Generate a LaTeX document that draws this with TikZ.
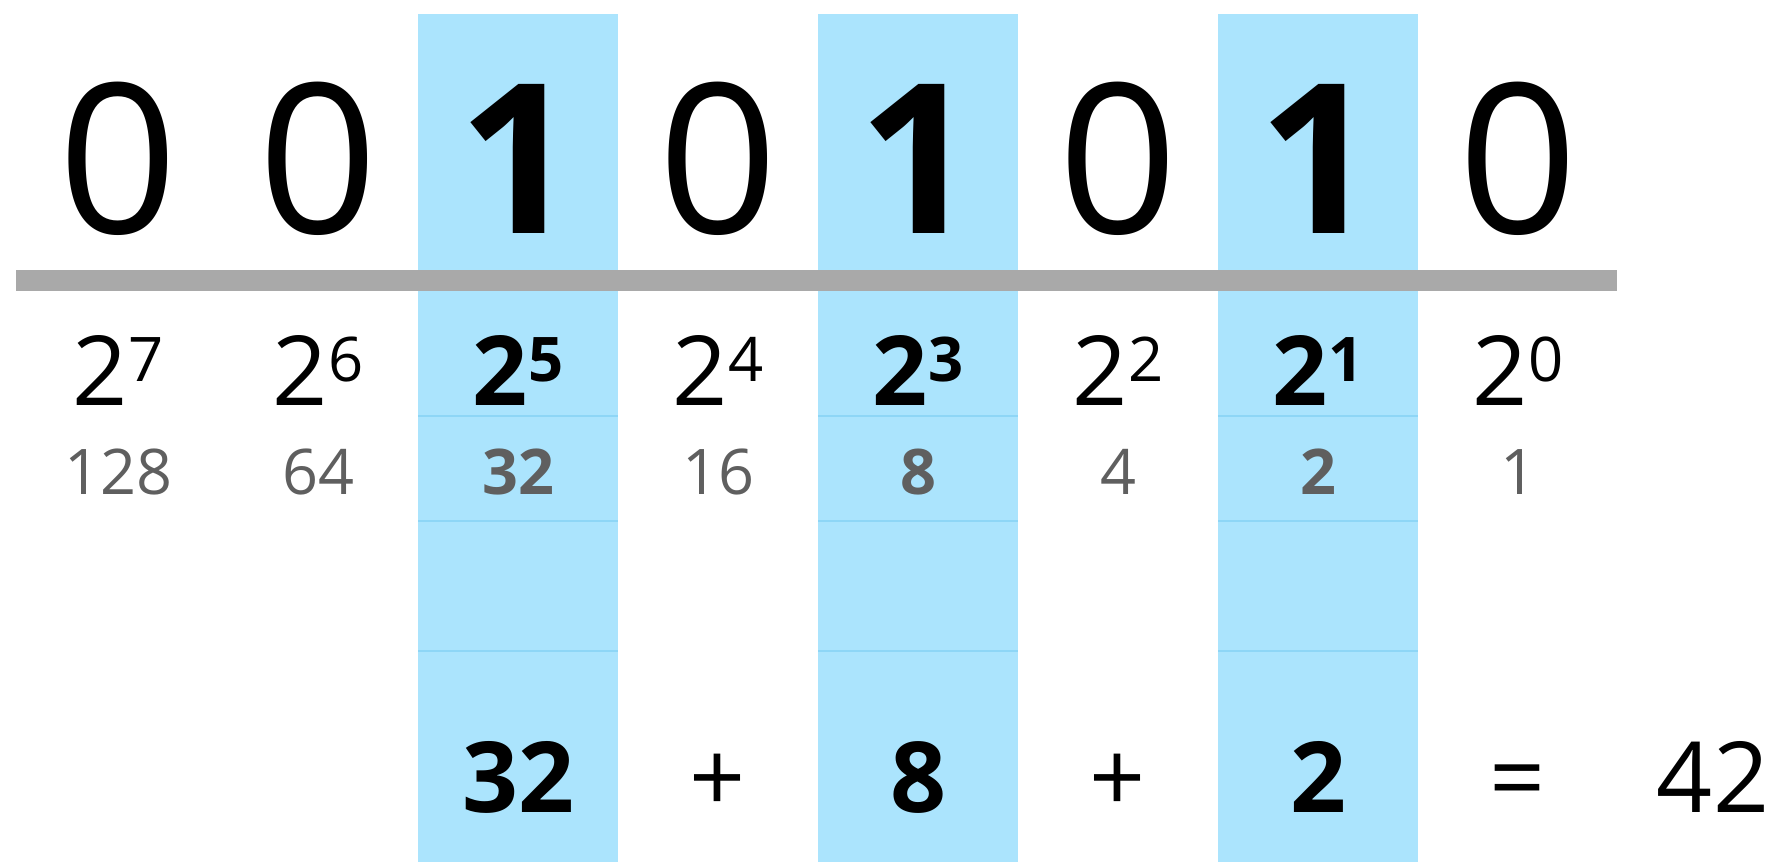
\documentclass[tikz,border=0pt]{standalone}
\usepackage{fontspec}
\setmainfont{Open Sans}
\usepackage{xcolor}
\definecolor{bitblue}{HTML}{ABE4FD}
\definecolor{bitline}{HTML}{8ED6F6}
\definecolor{rulegray}{HTML}{A9A9A9}
\definecolor{valgray}{HTML}{5F5F5F}

\begin{document}
\begin{tikzpicture}[
  x=0.01cm, y=-0.01cm,
  bit/.style={anchor=base, inner sep=0pt, font=\fontsize{59.4}{60}\selectfont},
  pow/.style={anchor=base, inner sep=0pt, font=\fontsize{27.5}{30}\selectfont},
  val/.style={anchor=base, inner sep=0pt, font=\fontsize{17.9}{20}\selectfont, text=valgray},
  sum/.style={anchor=base, inner sep=0pt, font=\fontsize{27.9}{30}\selectfont},
  cell/.style={bitline, line width=0.6pt},
]
\useasboundingbox (0,0) rectangle (1773,862);
% ---------------- highlighted columns (bits that are set)
\foreach \i in {2,4,6} {
  \pgfmathsetmacro{\x}{118+200*\i}
  \fill[bitblue] (\x-100,13.6) rectangle (\x+100,862);
  \foreach \y in {416,521,651} { \draw[cell] (\x-100,\y) -- (\x+100,\y); }
}
\draw[rulegray, line width=6pt] (16,280.5) -- (1617,280.5);
% ---------------- bits, powers and place values
\foreach \b [count=\k from 0] in {0,0,1,0,1,0,1,0} {
  \pgfmathtruncatemacro{\e}{7-\k}
  \pgfmathtruncatemacro{\v}{2^\e}
  \pgfmathsetmacro{\x}{118+200*\k}
  \ifnum\b=1 \def\w{\bfseries}\else\def\w{}\fi
  \node[bit] (b\k) at (\x,234) {\w\b};
  \node[pow] (p\k) at (\x,406) {\w 2\raisebox{0.24cm}{\fontsize{17.5}{20}\selectfont\e}};
  \node[val] (v\k) at (\x,495) {\w\v};
}
% ---------------- the sum
\node[sum] (s2) at (518,813) {\bfseries 32};
\node[sum] (s3) at (718,813) {+};
\node[sum] (s4) at (918,813) {\bfseries 8};
\node[sum] (s5) at (1118,813) {+};
\node[sum] (s6) at (1318,813) {\bfseries 2};
\node[sum] (s7) at (1518,813) {=};
\node[sum] (res) at (1713,813) {42};
\end{tikzpicture}
\end{document}
